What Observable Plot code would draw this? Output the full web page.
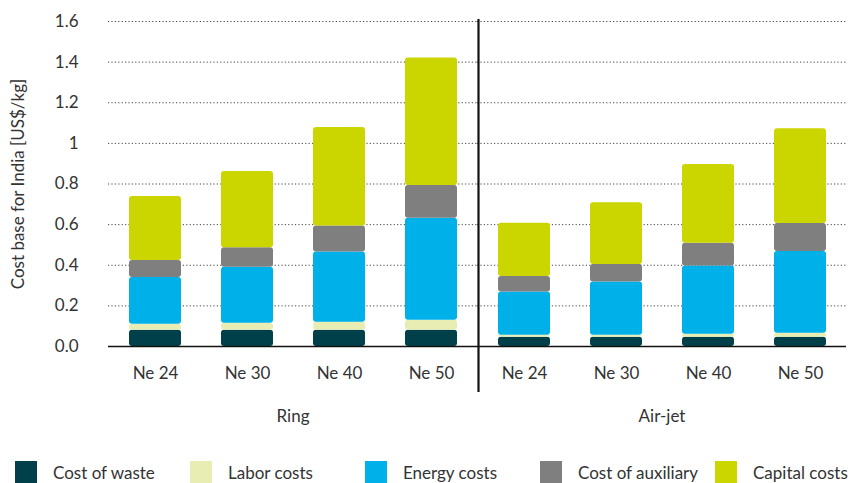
<!DOCTYPE html>
<html>
<head>
<meta charset="utf-8">
<script src="https://cdn.jsdelivr.net/npm/d3@7"></script>
<script src="https://cdn.jsdelivr.net/npm/@observablehq/plot@0.6"></script>
<style>
  body { margin: 0; background: #fff; font-family: Lato, "Liberation Sans", sans-serif; color: #333; }
  #chart { width: 863px; }
  .legend { position: relative; height: 37px; margin-top: 15px; }
  .item { position: absolute; top: 0; display: flex; align-items: center; font-size: 17px; color: #333; }
  .sw { width: 22px; height: 22px; margin-right: 16px; }
</style>
</head>
<body>
<div id="chart"></div>
<script>
// ---- data ----
const groups = ["Ring", "Air-jet"];
const yarns = ["Ne 24", "Ne 30", "Ne 40", "Ne 50"];
const components = ["Cost of waste", "Labor costs", "Energy costs", "Cost of auxiliary", "Capital costs"];
const colors = ["#00404b", "#e8edb3", "#00b0e8", "#7f7f7f", "#cbd500"];

// Ring spinning values (US$/kg), per yarn count
const ringWaste     = [0.080, 0.080, 0.080, 0.080];
const ringLabor     = [0.030, 0.035, 0.039, 0.049];
const ringEnergy    = [0.230, 0.275, 0.346, 0.503];
const ringAuxiliary = [0.084, 0.096, 0.128, 0.161];
const ringCapital   = [0.315, 0.375, 0.485, 0.627];

// Air-jet spinning values (US$/kg)
const airWaste     = [0.045, 0.045, 0.045, 0.045];
const airLabor     = [0.011, 0.010, 0.015, 0.020];
const airEnergy    = [0.212, 0.262, 0.336, 0.403];
const airAuxiliary = [0.077, 0.087, 0.112, 0.138];
const airCapital   = [0.262, 0.304, 0.388, 0.466];

const yTicks = [0, 0.2, 0.4, 0.6, 0.8, 1, 1.2, 1.4, 1.6];
const yTickLabels = ["0.0", "0.2", "0.4", "0.6", "0.8", "1", "1.2", "1.4", "1.6"];
const yTitle = "Cost base for India [US$/kg]";

// ---- tidy table ----
const series = {
  "Ring": [ringWaste, ringLabor, ringEnergy, ringAuxiliary, ringCapital],
  "Air-jet": [airWaste, airLabor, airEnergy, airAuxiliary, airCapital]
};
const rows = [];
for (const g of groups) {
  yarns.forEach((yarn, i) => {
    components.forEach((c, k) => {
      rows.push({group: g, yarn, component: c, order: k, value: series[g][k][i]});
    });
  });
}

const font = "Lato, 'Liberation Sans', sans-serif";

const chart = Plot.plot({
  width: 863,
  height: 446,
  marginTop: 21,
  marginBottom: 100,
  marginLeft: 107,
  marginRight: 17,
  style: {fontFamily: font, fontSize: "17px", color: "#333", background: "#fff"},
  fx: {domain: groups, padding: 0, axis: null},
  x: {domain: yarns, paddingInner: 0.435, paddingOuter: 0.2175},
  y: {domain: [0, 1.6]},
  color: {domain: components, range: colors},
  marks: [
    Plot.gridY(yTicks.slice(1), {stroke: "#444", strokeOpacity: 1, strokeWidth: 1, strokeDasharray: "1.2,2.2"}),
    Plot.axisY({ticks: yTicks, tickFormat: (d) => yTickLabels[yTicks.indexOf(d)], tickSize: 0, tickPadding: 30,
      label: yTitle, labelAnchor: "center", labelArrow: "none", labelOffset: 97, fontSize: 17, fill: "#333"}),
    Plot.axisX({tickSize: 0, tickPadding: 20, label: null, fontSize: 17, fill: "#333"}),
    Plot.barY(rows, {fx: "group", x: "yarn", y: "value", fill: "component", order: components, rx: 3}),
    Plot.ruleY([0], {stroke: "#111", strokeWidth: 1.5}),
    Plot.ruleX(["Air-jet"], {fx: d => d, x: () => yarns[0], dx: -46, stroke: "#111", strokeWidth: 2.2,
      insetTop: -2, insetBottom: -46}),
    Plot.text(groups, {fx: d => d, text: d => d, frameAnchor: "bottom", dy: 75, fill: "#333", fontSize: 17})
  ]
});
document.getElementById("chart").appendChild(chart);

// ---- legend ----
const legend = document.createElement("div");
legend.className = "legend";
components.forEach((c, k) => {
  const it = document.createElement("div");
  it.className = "item";
  it.style.left = (15 + k * 175) + "px";
  const sw = document.createElement("div");
  sw.className = "sw";
  sw.style.background = colors[k];
  const tx = document.createElement("span");
  tx.textContent = c;
  it.appendChild(sw);
  it.appendChild(tx);
  legend.appendChild(it);
});
document.getElementById("chart").appendChild(legend);
</script>
</body>
</html>
